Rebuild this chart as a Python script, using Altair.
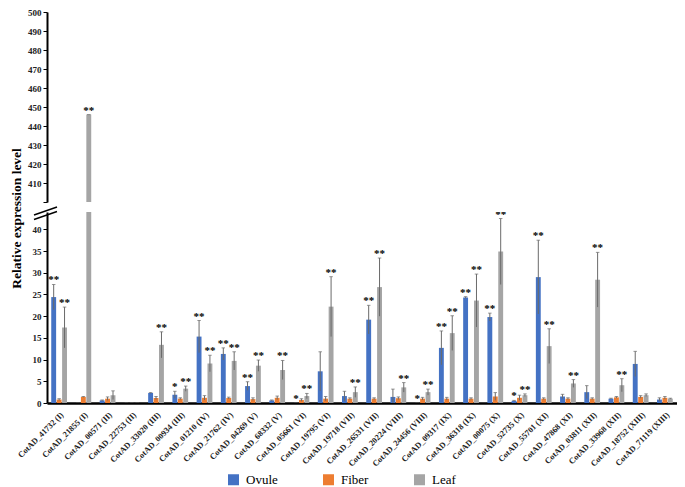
import altair as alt
import pandas as pd

genes = ["CotAD_41732 (I)", "CotAD_21855 (I)", "CotAD_00571 (II)", "CotAD_22753 (II)",
         "CotAD_33020 (III)", "CotAD_00934 (III)", "CotAD_01210 (IV)", "CotAD_21762 (IV)",
         "CotAD_04269 (V)", "CotAD_68332 (V)", "CotAD_05661 (VI)", "CotAD_19795 (VI)",
         "CotAD_19718 (VII)", "CotAD_26531 (VII)", "CotAD_20224 (VIII)", "CotAD_24456 (VIII)",
         "CotAD_09317 (IX)", "CotAD_36318 (IX)", "CotAD_00075 (X)", "CotAD_52735 (X)",
         "CotAD_55701 (XI)", "CotAD_47868 (XI)", "CotAD_03811 (XII)", "CotAD_33968 (XII)",
         "CotAD_18752 (XIII)", "CotAD_71119 (XIII)"]
tissues = ["Ovule", "Fiber", "Leaf"]
colors = ["#4472C4", "#ED7D31", "#A5A5A5"]

ovule = [24.4, 0, 0.6, 0, 2.3, 1.9, 15.3, 11.3, 3.9, 0.6, 0, 7.3, 1.6, 19.2, 1.4, 0,
         12.7, 24.3, 19.8, 0.5, 29.0, 1.5, 2.5, 1.0, 9.0, 0.8]
ovule_err = [2.9, 0, 0.1, 0, 0.1, 0.8, 3.7, 1.4, 1.0, 0.1, 0, 4.5, 1.1, 3.3, 1.8, 0,
             3.9, 0.2, 0.9, 0.1, 8.5, 0.5, 1.5, 0.1, 2.9, 0.4]
fiber = [0.8, 1.4, 1.0, 0, 1.15, 1.0, 1.2, 1.15, 0.9, 1.2, 0.7, 1.0, 1.0, 1.0, 1.1, 1.0,
         1.0, 1.0, 1.5, 1.2, 1.0, 1.0, 1.0, 1.3, 1.4, 1.2]
fiber_err = [0.2, 0.1, 0.4, 0, 0.35, 0.2, 0.5, 0.2, 0.3, 0.4, 0.3, 0.5, 0.2, 0.2, 0.3, 0.3,
             0.3, 0.2, 0.9, 0.6, 0.2, 0.2, 0.2, 0.2, 0.3, 0.3]
leaf = [17.4, 446, 1.8, 0, 13.4, 3.3, 9.1, 9.7, 8.6, 7.6, 1.6, 22.2, 2.5, 26.7, 3.6, 2.5,
        16.1, 23.6, 34.9, 1.8, 13.1, 4.5, 28.4, 4.1, 1.8, 1.0]
leaf_err = [4.7, 0, 1.0, 0, 3.0, 0.6, 1.9, 2.1, 1.3, 2.2, 0.6, 6.9, 1.2, 6.7, 1.1, 0.7,
            4.0, 6.1, 7.6, 0.3, 4.0, 0.9, 6.3, 1.5, 0.3, 0.1]

ovule_sig = ["**", "", "", "", "", "*", "**", "**", "**", "", "*", "", "", "**", "", "*",
             "**", "**", "**", "*", "**", "", "", "", "", ""]
fiber_sig = [""] * 26
leaf_sig = ["**", "**", "", "", "**", "**", "**", "**", "**", "**", "**", "**", "**", "**",
            "**", "**", "**", "**", "**", "**", "**", "**", "**", "**", "", ""]

rows = []
for t, vals, errs, sigs in [("Ovule", ovule, ovule_err, ovule_sig),
                            ("Fiber", fiber, fiber_err, fiber_sig),
                            ("Leaf", leaf, leaf_err, leaf_sig)]:
    for i, g in enumerate(genes):
        rows.append({"gene": g, "tissue": t, "value": vals[i], "err": errs[i],
                     "sig": sigs[i]})
df = pd.DataFrame(rows)
df["lo"] = (df["value"] - df["err"]).clip(lower=0)
df["hi"] = df["value"] + df["err"]

SERIF = "Liberation Serif"
W = 630
ERRC = "#6a6a6a"

def xenc(show_axis):
    if show_axis:
        ax = alt.Axis(title=None, labelAngle=-45, labelFont=SERIF, labelFontWeight="bold",
                      labelFontSize=8.3, labelColor="#222", ticks=False, domainColor="black",
                      domainWidth=2.5, labelPadding=7, grid=False, labelOverlap=False)
    else:
        ax = None
    return alt.X("gene:N", sort=genes, axis=ax,
                 scale=alt.Scale(paddingInner=0.35, paddingOuter=0.175))

xoff = alt.XOffset("tissue:N", sort=tissues, scale=alt.Scale(paddingInner=0.1))

def panel(domain, height, show_x, yaxis, legend, text_filter):
    base = alt.Chart(df).encode(x=xenc(show_x), xOffset=xoff)
    yscale = alt.Scale(domain=domain, nice=False, zero=(domain[0] == 0))
    bars = base.mark_bar(clip=True).encode(
        y=alt.Y("value:Q", scale=yscale, axis=yaxis),
        color=alt.Color("tissue:N", sort=tissues,
                        scale=alt.Scale(domain=tissues, range=colors), legend=legend),
    )
    err = base.mark_rule(clip=True, color=ERRC, strokeWidth=1).encode(
        y=alt.Y("lo:Q", scale=yscale, axis=yaxis), y2="hi:Q")
    caps = base.mark_tick(clip=True, color=ERRC, thickness=1, size=3.5).encode(
        y=alt.Y("hi:Q", scale=yscale, axis=yaxis))
    stars = base.transform_filter(text_filter).mark_text(
        clip=True, baseline="alphabetic", dy=-1, font=SERIF, fontSize=11,
        fontWeight="bold", color="black", fill="black", opacity=1).encode(
        y=alt.Y("hi:Q", scale=yscale, axis=yaxis), text="sig:N",
        color=alt.value("black"))
    return alt.layer(bars, err, caps, stars).properties(width=W, height=height)

axis_common = dict(labelFont=SERIF, labelFontWeight="bold", labelFontSize=9,
                   labelColor="#222", domainColor="black", domainWidth=2,
                   tickColor="black", tickSize=4, tickWidth=1, grid=False,
                   labelOverlap=False, labelFlush=False)

upper_axis = alt.Axis(title=None, values=list(range(400, 501, 10)),
                      labelExpr="datum.value == 400 ? '' : datum.label", **axis_common)
lower_axis = alt.Axis(title="Relative expression level", values=list(range(0, 41, 5)),
                      titleFont=SERIF, titleFontSize=13.5, titleFontWeight="bold",
                      titleColor="black", titleAngle=270, titleX=-31, titleY=6,
                      titleAlign="center", titleBaseline="middle", **axis_common)

legend = alt.Legend(orient="none", legendX=180, legendY=261, direction="horizontal",
                    title=None, symbolType="square", symbolSize=121,
                    symbolStrokeWidth=0, symbolOpacity=1, labelFont=SERIF,
                    labelFontSize=13, labelColor="black", columnPadding=44,
                    padding=0, labelOffset=6)

upper = panel([400, 500], 190, False, upper_axis, None,
              "datum.sig != '' && datum.value > 44")
lower = panel([0, 44], 191, True, lower_axis, legend,
              "datum.sig != '' && datum.value <= 44")

brk = alt.Chart(alt.Data(values=[{"k": 1}])).mark_rule(color="black", strokeWidth=1.5)
brk1 = brk.encode(x=alt.value(-13), y=alt.value(3), x2=alt.value(10), y2=alt.value(-5))
brk2 = brk.encode(x=alt.value(-13), y=alt.value(7.5), x2=alt.value(10), y2=alt.value(-0.5))

lower_full = alt.layer(lower, brk1, brk2)

chart = alt.vconcat(upper, lower_full, spacing=10, bounds="flush").resolve_scale(
    y="independent", color="independent"
).properties(
    padding={"left": 0, "top": 0, "right": 0, "bottom": 0},
    background="white",
).configure_view(stroke=None).configure_axis(labelOverlap=False).configure_legend(
    labelFont=SERIF, labelFontSize=13, labelColor="black"
)

chart.save("out.html", embed_options={"renderer": "svg", "actions": False})
